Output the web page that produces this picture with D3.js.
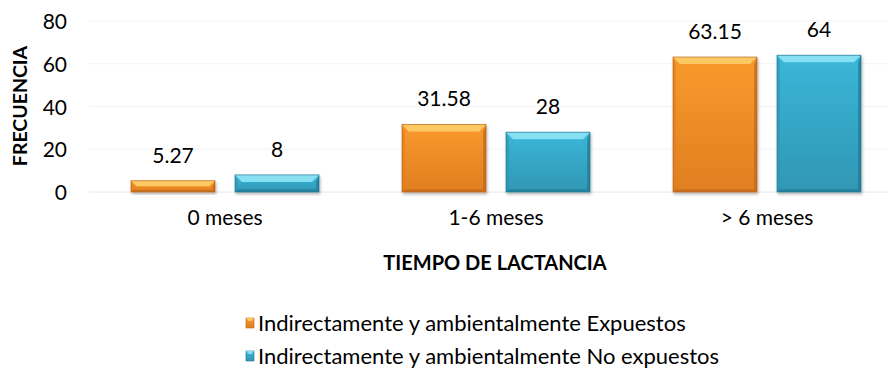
<!DOCTYPE html>
<html>
<head>
<meta charset="utf-8">
<script src="https://cdn.jsdelivr.net/npm/d3@7/dist/d3.min.js"></script>
<style>
  html, body { margin: 0; padding: 0; background: #ffffff; }
  svg { display: block; font-family: Lato, "Open Sans", sans-serif; }
</style>
</head>
<body>
<svg id="chart" width="893" height="373"></svg>
<script>
// Lactation time groups and frequency (%) per exposure group
const categories = ["0 meses", "1-6 meses", "> 6 meses"];
const seriesNames = [
  "Indirectamente y ambientalmente Expuestos",
  "Indirectamente y ambientalmente No expuestos"
];
const expuestos = [5.27, 31.58, 63.15];
const noExpuestos = [8, 28, 64];
const yTicks = [0, 20, 40, 60, 80];

const seriesValues = [expuestos, noExpuestos];
const palette = [
  { light: "#fdc964", base: "#f99a2d", dark: "#e07e20", edge: "#b9651b" },
  { light: "#86e0f2", base: "#3bb6d8", dark: "#2f97b4", edge: "#20758f" }
];

const svg = d3.select("#chart");
const defs = svg.append("defs");

palette.forEach((c, i) => {
  const g = defs.append("linearGradient")
    .attr("id", "face" + i).attr("x1", 0).attr("y1", 0).attr("x2", 0).attr("y2", 1);
  g.append("stop").attr("offset", "0%").attr("stop-color", c.base);
  g.append("stop").attr("offset", "100%").attr("stop-color", c.dark);
});
const shadow = defs.append("filter").attr("id", "shadow")
  .attr("x", "-20%").attr("y", "-20%").attr("width", "140%").attr("height", "140%");
shadow.append("feGaussianBlur").attr("in", "SourceAlpha").attr("stdDeviation", 1.6);
shadow.append("feOffset").attr("dx", 1).attr("dy", 2).attr("result", "b");
shadow.append("feComponentTransfer").append("feFuncA").attr("type", "linear").attr("slope", 0.3);
const merge = shadow.append("feMerge");
merge.append("feMergeNode");
merge.append("feMergeNode").attr("in", "SourceGraphic");

const plotLeft = 89, plotRight = 888;
const x0 = d3.scaleBand().domain(categories).range([89.5, 902.5]).paddingInner(0).paddingOuter(0);
const x1 = d3.scaleBand().domain(d3.range(seriesNames.length))
  .range([41.5, x0.bandwidth() - 41.5]).paddingInner(0.1923).paddingOuter(0);
const y = d3.scaleLinear().domain([0, 80]).range([192, 21]);

// gridlines
svg.append("g").selectAll("line").data(yTicks).join("line")
  .attr("x1", plotLeft).attr("x2", plotRight)
  .attr("y1", d => y(d)).attr("y2", d => y(d))
  .attr("stroke", d => d === 0 ? "#e6e6e6" : "#f3f3f3").attr("stroke-width", 1);

// y axis labels
const yAxis = d3.axisLeft(y).tickValues(yTicks).tickSize(0).tickPadding(0);
svg.append("g").attr("transform", "translate(67,0)").call(yAxis)
  .call(g => g.select(".domain").remove())
  .selectAll("text").attr("font-size", 21).attr("fill", "#000").attr("font-family", "Lato, sans-serif")
  .attr("dy", "0.36em");

// x axis labels
const xAxis = d3.axisBottom(x0).tickSize(0).tickPadding(0);
svg.append("g").attr("transform", "translate(0,225)").call(xAxis)
  .call(g => g.select(".domain").remove())
  .selectAll("text").attr("font-size", 21).attr("fill", "#000").attr("font-family", "Lato, sans-serif")
  .attr("dy", "0");

// beveled bars
const bevel = 7;
const groups = svg.append("g").selectAll("g").data(categories).join("g")
  .attr("transform", d => `translate(${x0(d)},0)`);

groups.each(function (cat, ci) {
  const g = d3.select(this);
  seriesValues.forEach((vals, si) => {
    const v = vals[ci];
    const bx = x1(si), bw = x1.bandwidth();
    const top = y(v), bot = y(0), h = bot - top;
    const bv = Math.min(bevel, h / 2);
    const c = palette[si];
    const bar = g.append("g").attr("filter", "url(#shadow)");
    bar.append("rect").attr("x", bx).attr("y", top).attr("width", bw).attr("height", h)
      .attr("fill", `url(#face${si})`);
    // top bevel
    bar.append("path").attr("d",
      `M${bx},${top}L${bx + bw},${top}L${bx + bw - bv},${top + bv}L${bx + bv},${top + bv}Z`)
      .attr("fill", c.light);
    // left bevel
    bar.append("path").attr("d",
      `M${bx},${top}L${bx + bv * 0.4},${top + bv}L${bx + bv * 0.4},${bot - bv * 0.4}L${bx},${bot}Z`)
      .attr("fill", c.dark).attr("opacity", 0.7);
    // right bevel
    bar.append("path").attr("d",
      `M${bx + bw},${top}L${bx + bw - bv * 0.4},${top + bv}L${bx + bw - bv * 0.4},${bot - bv * 0.4}L${bx + bw},${bot}Z`)
      .attr("fill", c.edge).attr("opacity", 0.7);
    // bottom bevel
    bar.append("path").attr("d",
      `M${bx},${bot}L${bx + bv * 0.4},${bot - bv * 0.4}L${bx + bw - bv * 0.4},${bot - bv * 0.4}L${bx + bw},${bot}Z`)
      .attr("fill", c.edge).attr("opacity", 0.6);
    bar.append("rect").attr("x", bx).attr("y", top).attr("width", bw).attr("height", h)
      .attr("fill", "none").attr("stroke", c.edge).attr("stroke-width", 0.8).attr("stroke-opacity", 0.8);
    // value label
    g.append("text").attr("x", bx + bw / 2).attr("y", top - 18)
      .attr("text-anchor", "middle").attr("font-size", 21).attr("fill", "#000")
      .text(String(v));
  });
});

// axis titles
svg.append("text").attr("x", 495).attr("y", 270).attr("text-anchor", "middle")
  .attr("font-size", 20).attr("font-weight", "bold").attr("fill", "#000")
  .text("TIEMPO DE LACTANCIA");
svg.append("text").attr("transform", "translate(27,106) rotate(-90)").attr("text-anchor", "middle")
  .attr("font-size", 19.5).attr("font-weight", "bold").attr("fill", "#000")
  .text("FRECUENCIA");

// legend
const legend = svg.append("g").selectAll("g").data(seriesNames).join("g")
  .attr("transform", (d, i) => `translate(246,${323 + i * 33})`);
legend.append("rect").attr("x", 0).attr("y", -5).attr("width", 8).attr("height", 10)
  .attr("fill", (d, i) => `url(#face${i})`).attr("stroke", (d, i) => palette[i].edge).attr("stroke-width", 0.6);
legend.append("path").attr("d", "M0,-5L8,-5L5.5,-2L2.5,-2Z").attr("fill", (d, i) => palette[i].light);
legend.append("text").attr("x", 12).attr("y", 0).attr("dy", "0.36em")
  .attr("font-size", 22).attr("fill", "#000").text(d => d);
</script>
</body>
</html>
